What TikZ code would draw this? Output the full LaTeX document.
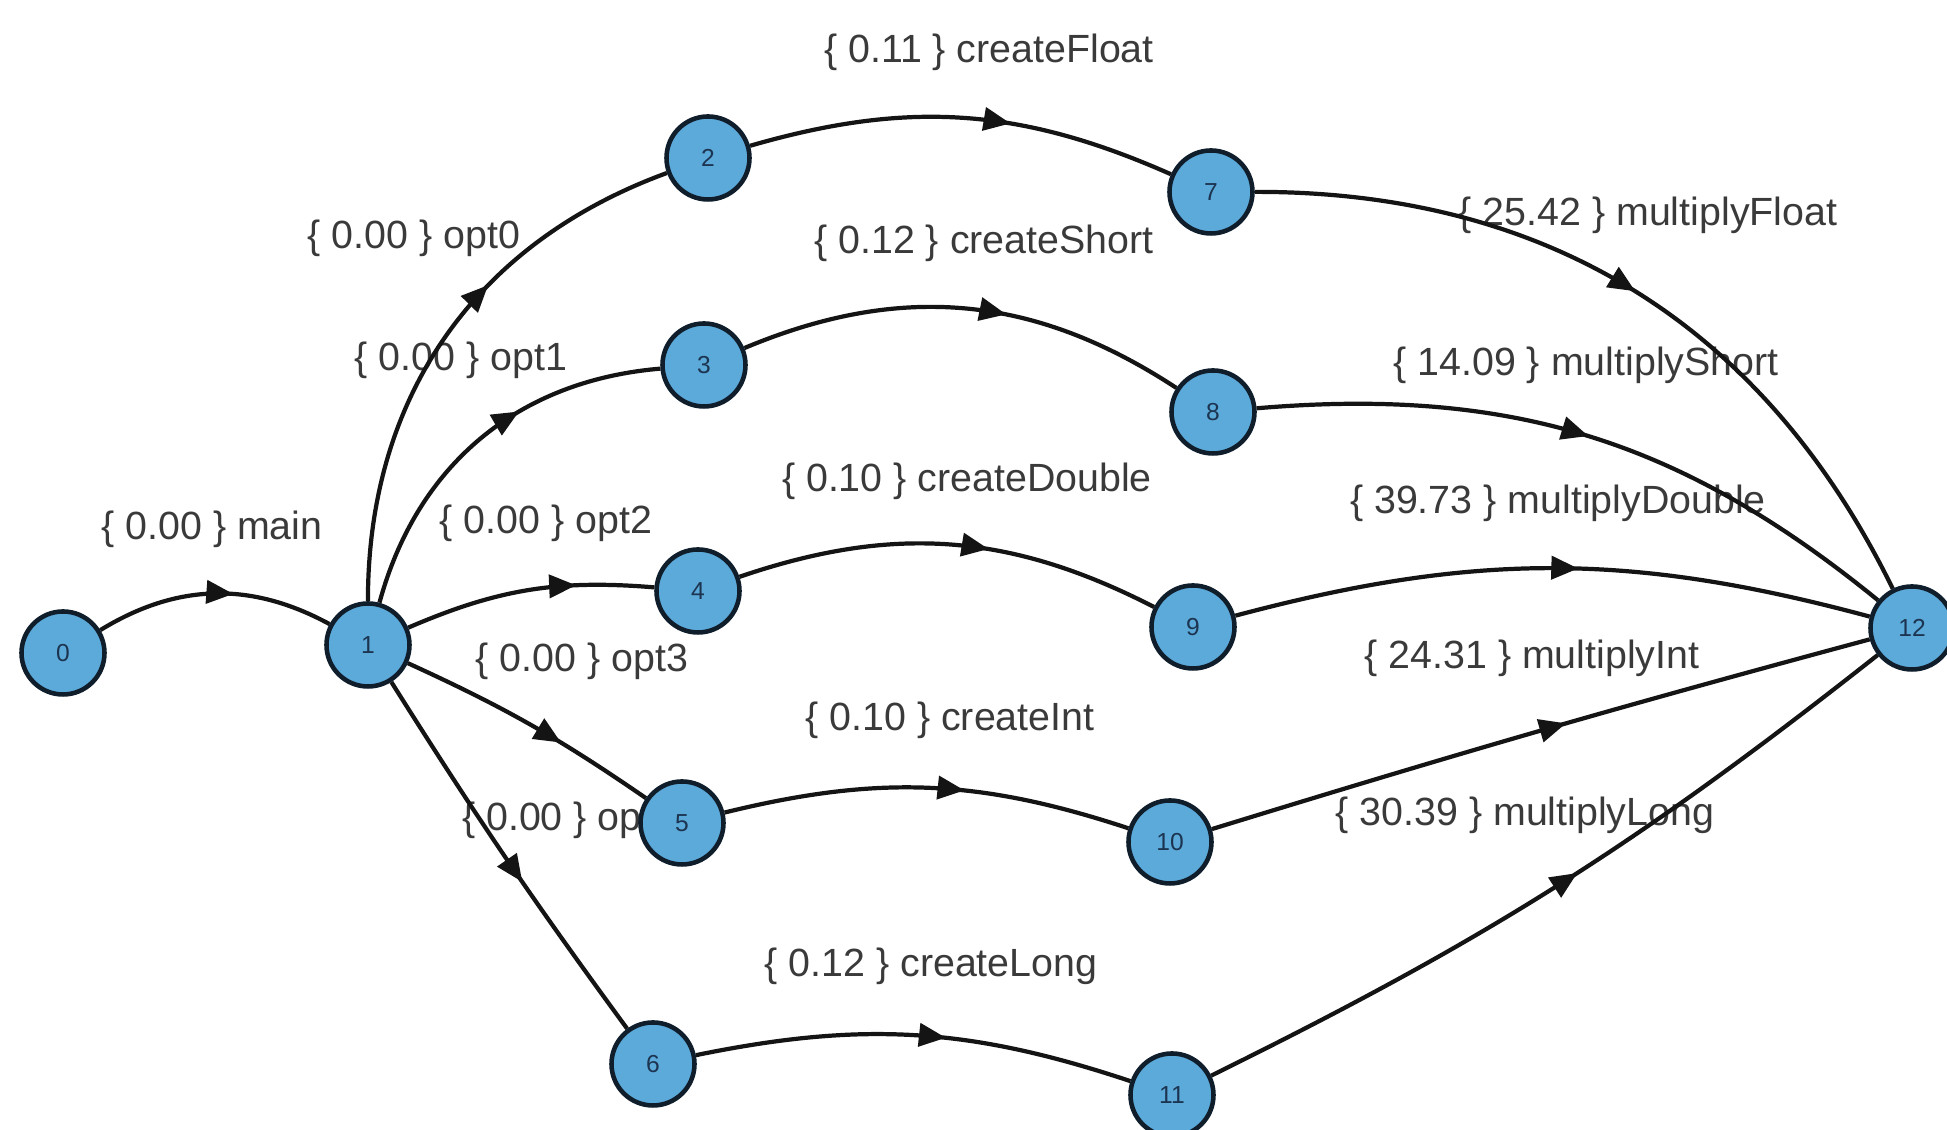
\documentclass[tikz,border=0pt]{standalone}
\usepackage{fontspec}
\setmainfont{Liberation Sans}
\usepackage{xcolor}
\usepackage{tikz}
\usetikzlibrary{arrows.meta,decorations.markings}
\definecolor{nodeblue}{RGB}{92, 170, 218}
\definecolor{nodeline}{RGB}{16, 30, 44}
\definecolor{numtext}{RGB}{28, 52, 80}
\definecolor{labelgray}{RGB}{58, 58, 58}
\pgfdeclarelayer{bg}
\pgfsetlayers{bg,main}
\tikzset{
  state/.style={circle, draw=nodeline, line width=1.3pt, fill=nodeblue,
    minimum size=8.3mm, inner sep=0pt, text=numtext,
    font=\fontsize{7}{8}\selectfont},
  edge/.style={line width=1.2pt, draw=black!92},
  midarrow/.style={postaction={decorate}, decoration={markings,
    mark=at position #1 with {\arrow{Triangle[length=2.7mm, width=2.3mm]}}}},
  elabel/.style={font=\fontsize{11.2}{13}\selectfont, text=labelgray, inner sep=1pt},
}

\begin{document}
\begin{tikzpicture}
\useasboundingbox (0,0) rectangle (19.47,11.30);
% Call graph nodes
\foreach \n/\x/\y in {0/0.63/4.77, 1/3.68/4.85, 2/7.08/9.72, 3/7.04/7.65,
                      4/6.98/5.39, 5/6.82/3.07, 6/6.53/0.66, 7/12.11/9.38,
                      8/12.13/7.18, 9/11.93/5.03, 10/11.70/2.88,
                      11/11.72/0.35, 12/19.12/5.02} {
    \node[state] (n\n) at (\x,\y) {\n};
}

\begin{pgfonlayer}{bg}
% Edge weights
\foreach \lname/\x/\y/\txt in {lmain/2.12/6.01/{\{ 0.00 \} main},
    lopt0/4.14/8.92/{\{ 0.00 \} opt0}, lopt1/4.61/7.70/{\{ 0.00 \} opt1},
    lopt2/5.46/6.07/{\{ 0.00 \} opt2}, lopt3/5.82/4.69/{\{ 0.00 \} opt3},
    lcfloat/9.89/10.78/{\{ 0.11 \} createFloat},
    lcshort/9.84/8.87/{\{ 0.12 \} createShort},
    lcdouble/9.67/6.49/{\{ 0.10 \} createDouble},
    lcint/9.50/4.10/{\{ 0.10 \} createInt},
    lclong/9.31/1.64/{\{ 0.12 \} createLong},
    lmfloat/16.48/9.15/{\{ 25.42 \} multiplyFloat},
    lmshort/15.86/7.65/{\{ 14.09 \} multiplyShort},
    lmdouble/15.58/6.27/{\{ 39.73 \} multiplyDouble},
    lmint/15.32/4.72/{\{ 24.31 \} multiplyInt},
    lmlong/15.25/3.15/{\{ 30.39 \} multiplyLong}} {
    \node[elabel] (\lname) at (\x,\y) {\txt};
}
% this one hides behind node 5
\node[elabel, anchor=west] (lopt4) at (4.58,3.10) {\{ 0.00 \} opt4};

% Calls
\foreach \a/\b/\bend/\p in {0/1/30/0.58, 1/2/35/0.62, 1/3/35/0.62,
                            1/4/14/0.69, 1/5/5/0.63, 1/6/-2/0.57,
                            2/7/20/0.61, 3/8/28/0.59, 4/9/23/0.59,
                            5/10/16/0.59, 6/11/15/0.57,
                            7/12/32/0.50, 8/12/22/0.50, 9/12/15/0.54,
                            10/12/1/0.54, 11/12/-6/0.53} {
    \draw[edge, midarrow=\p] (n\a) to[bend left=\bend] (n\b);
}
\end{pgfonlayer}
\end{tikzpicture}
\end{document}
